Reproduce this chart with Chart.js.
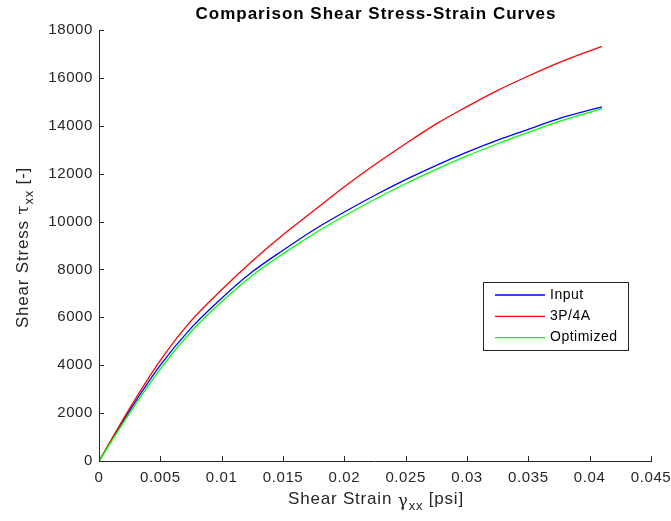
<!DOCTYPE html>
<html>
<head>
<meta charset="utf-8">
<script src="https://cdn.jsdelivr.net/npm/chart.js@4.4.1/dist/chart.umd.min.js"></script>
<style>
    html, body { margin: 0; padding: 0; background: #fff; }
    #wrap { width: 671px; height: 521px; }
</style>
</head>
<body>
<div id="wrap"><canvas id="chart" width="671" height="521"></canvas></div>
<script>
// Data
const strain = [0, 0.0025, 0.005, 0.0075, 0.01, 0.0125, 0.015, 0.0175, 0.02, 0.0225, 0.025, 0.0275, 0.03, 0.0325, 0.035, 0.0375, 0.041];
const inputStress = [0, 2100, 4000, 5550, 6800, 7900, 8800, 9650, 10400, 11100, 11750, 12350, 12900, 13400, 13850, 14300, 14790];
const stress3P4A = [0, 2200, 4200, 5850, 7150, 8350, 9450, 10450, 11450, 12380, 13250, 14080, 14800, 15480, 16080, 16640, 17320];
const optimizedStress = [0, 2000, 3850, 5400, 6650, 7750, 8650, 9480, 10230, 10930, 11580, 12180, 12740, 13250, 13720, 14180, 14720];

const seriesNames = ["Input", "3P/4A", "Optimized"];
const seriesColors = ["#0000ff", "#ff0000", "#00ff00"];
const xTicks = [0, 0.005, 0.01, 0.015, 0.02, 0.025, 0.03, 0.035, 0.04, 0.045];
const yTicks = [0, 2000, 4000, 6000, 8000, 10000, 12000, 14000, 16000, 18000];

const chartTitle = "Comparison Shear Stress-Strain Curves";
const font = "'Liberation Sans', Arial, sans-serif";
const axisColor = "#262626";

function toPoints(values) {
    return strain.map((s, i) => ({ x: s, y: values[i] }));
}

// MATLAB text is spaced a little wider
const spacing = {
    id: "spacing",
    beforeLayout(chart) { chart.ctx.letterSpacing = "0.6px"; },
    beforeDraw(chart) { chart.ctx.letterSpacing = "0.6px"; }
};

// Inward tick marks, titles and the boxed legend
const decor = {
    id: "decor",
    afterDraw(chart) {
        const { ctx, chartArea: a, scales: { x, y } } = chart;
        ctx.save();

        // ticks
        ctx.strokeStyle = axisColor;
        ctx.lineWidth = 1;
        ctx.beginPath();
        xTicks.forEach(v => {
            const px = Math.round(x.getPixelForValue(v)) + 0.5;
            ctx.moveTo(px, a.bottom);
            ctx.lineTo(px, a.bottom - 5);
        });
        yTicks.forEach(v => {
            const py = Math.round(y.getPixelForValue(v)) + 0.5;
            ctx.moveTo(a.left, py);
            ctx.lineTo(a.left + 5, py);
        });
        ctx.stroke();

        // title
        ctx.letterSpacing = "1px";
        ctx.fillStyle = "#000";
        ctx.font = "bold 17px " + font;
        ctx.textAlign = "center";
        ctx.textBaseline = "middle";
        ctx.fillText(chartTitle, 376, 14);

        // axis titles with subscripts
        function subTitle(parts, cx, cy) {
            ctx.textAlign = "left";
            ctx.textBaseline = "alphabetic";
            let total = 0;
            parts.forEach(p => {
                ctx.font = p.size + "px " + (p.serif ? "'DejaVu Serif', serif" : font);
                p.w = ctx.measureText(p.t).width;
                total += p.w;
            });
            let px = cx - total / 2;
            parts.forEach(p => {
                ctx.font = p.size + "px " + (p.serif ? "'DejaVu Serif', serif" : font);
                ctx.fillText(p.t, px, cy + (p.dy || 0));
                px += p.w;
            });
        }
        ctx.letterSpacing = "0.8px";
        ctx.fillStyle = "#262626";
        subTitle([
            { t: "Shear Strain ", size: 17 },
            { t: "\u03b3", size: 17, serif: true, dy: 2 },
            { t: "xx", size: 13, dy: 6 },
            { t: " [psi]", size: 17 }
        ], 376, 504);

        ctx.save();
        ctx.translate(28, (a.top + a.bottom) / 2 + 2);
        ctx.rotate(-Math.PI / 2);
        subTitle([
            { t: "Shear Stress ", size: 17 },
            { t: "\u03c4", size: 17, serif: true },
            { t: "xx", size: 13, dy: 5 },
            { t: " [-]", size: 17 }
        ], 0, 0);
        ctx.restore();

        // legend box
        const lx = 483.5, ly = 282.5, lw = 145, lh = 68;
        ctx.fillStyle = "#fff";
        ctx.fillRect(lx, ly, lw, lh);
        ctx.strokeStyle = axisColor;
        ctx.strokeRect(lx, ly, lw, lh);
        ctx.letterSpacing = "0.5px";
        ctx.font = "14px " + font;
        ctx.textAlign = "left";
        ctx.textBaseline = "middle";
        chart.data.datasets.forEach((ds, i) => {
            const rowY = 295 + i * 21.3;
            ctx.strokeStyle = ds.borderColor;
            ctx.lineWidth = 1.3;
            ctx.beginPath();
            ctx.moveTo(495, rowY);
            ctx.lineTo(545, rowY);
            ctx.stroke();
            ctx.fillStyle = "#000";
            ctx.fillText(ds.label, 550, rowY);
        });
        ctx.restore();
    }
};

const ctx = document.getElementById("chart").getContext("2d");
const chart = new Chart(ctx, {
    type: "scatter",
    data: {
        datasets: [inputStress, stress3P4A, optimizedStress].map((vals, i) => ({
            label: seriesNames[i],
            data: toPoints(vals),
            showLine: true,
            borderColor: seriesColors[i],
            backgroundColor: seriesColors[i],
            borderWidth: 1.3,
            pointRadius: 0,
            cubicInterpolationMode: "monotone",
            order: 2 - i
        }))
    },
    options: {
        responsive: false,
        animation: false,
        events: [],
        layout: { padding: { top: 30, right: 20, left: 0, bottom: 0 } },
        plugins: {
            legend: { display: false },
            title: { display: false },
            tooltip: { enabled: false }
        },
        scales: {
            x: {
                type: "linear",
                min: 0,
                max: 0.045,
                afterBuildTicks: s => { s.ticks = xTicks.map(v => ({ value: v })); },
                afterFit: s => { s.height = 60; s.paddingLeft = 0; s.paddingRight = 0; },
                grid: { display: false, drawTicks: false },
                border: { display: true, color: axisColor, width: 1 },
                ticks: {
                    color: axisColor,
                    font: { family: font, size: 15 },
                    padding: 8,
                    maxRotation: 0,
                    autoSkip: false,
                    callback: v => String(+v.toFixed(3))
                }
            },
            y: {
                min: 0,
                max: 18000,
                afterBuildTicks: s => { s.ticks = yTicks.map(v => ({ value: v })); },
                afterFit: s => { s.width = 99; s.paddingTop = 0; s.paddingBottom = 0; },
                grid: { display: false, drawTicks: false },
                border: { display: true, color: axisColor, width: 1 },
                ticks: {
                    color: axisColor,
                    font: { family: font, size: 15 },
                    padding: 6,
                    autoSkip: false,
                    callback: v => String(v)
                }
            }
        }
    },
    plugins: [spacing, decor]
});
</script>
</body>
</html>
